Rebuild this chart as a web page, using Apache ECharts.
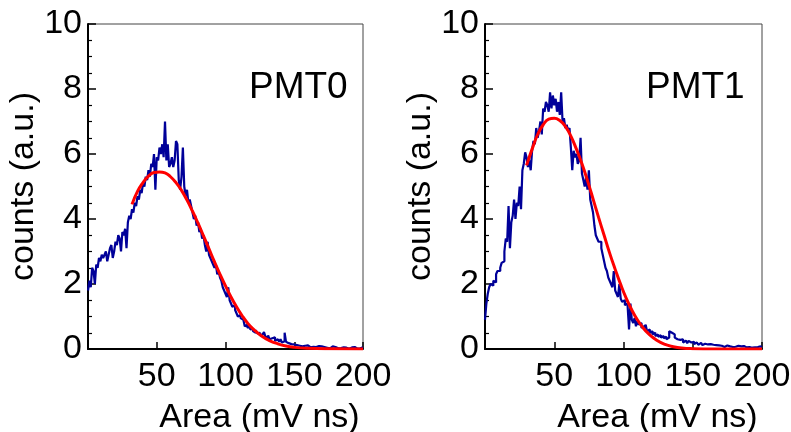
<!DOCTYPE html>
<html>
<head>
<meta charset="utf-8">
<script src="https://cdn.jsdelivr.net/npm/echarts@6/dist/echarts.min.js"></script>
<style>
  html, body { margin: 0; padding: 0; background: #fff; }
  #chart { width: 791px; height: 432px; }
</style>
</head>
<body>
<div id="chart"></div>
<script>
// Pulse-area spectra of two photomultipliers, 1 mV ns bins from 0 to 200.
const binWidth = 1;

// PMT0 histogram contents (counts, a.u.), bin i covers [i, i+1)
const pmt0Counts = [
  1.8, 2.1, 1.9, 2.5, 2.4, 2.0, 2.6, 2.5, 2.8, 2.7,
  2.9, 2.8, 2.9, 3.0, 2.7, 2.9, 3.1, 3.2, 2.8, 3.0,
  3.3, 3.2, 3.5, 3.4, 3.0, 3.6, 3.5, 3.7, 3.1, 3.9,
  4.1, 4.0, 4.3, 4.2, 4.5, 4.4, 4.7, 4.6, 4.9, 4.8,
  5.1, 5.0, 5.3, 5.2, 5.5, 5.3, 5.7, 5.6, 6.0, 4.9,
  5.9, 5.8, 6.2, 6.0, 6.3, 5.9, 7.0, 5.8, 6.3, 5.6,
  5.7, 5.9, 5.6, 5.8, 6.4, 6.3, 5.2, 4.9, 5.3, 6.2,
  5.0, 4.7, 4.9, 4.5, 4.6, 4.4, 4.2, 4.0, 4.1, 3.8,
  3.9, 3.6, 3.7, 3.4, 3.5, 3.2, 3.0, 3.3, 2.9, 2.8,
  2.7, 2.6, 2.5, 2.6, 2.3, 2.4, 2.2, 2.1, 1.9, 1.8,
  1.7, 1.6, 1.9, 1.5, 1.4, 1.3, 1.35, 1.2, 1.1, 1.0,
  1.05, 0.95, 0.9, 0.85, 0.7, 0.75, 0.65, 0.7, 0.6, 0.62,
  0.55, 0.5, 0.58, 0.48, 0.5, 0.42, 0.45, 0.4, 0.52, 0.38,
  0.35, 0.42, 0.3, 0.33, 0.28, 0.36, 0.25, 0.3, 0.27, 0.22,
  0.3, 0.2, 0.24, 0.5, 0.22, 0.18, 0.2, 0.15, 0.19, 0.14,
  0.15, 0.12, 0.18, 0.1, 0.14, 0.08, 0.12, 0.1, 0.06, 0.11,
  0.08, 0.05, 0.1, 0.07, 0.12, 0.06, 0.04, 0.09, 0.05, 0.08,
  0.03, 0.06, 0.1, 0.04, 0.07, 0.02, 0.05, 0.08, 0.03, 0.06,
  0.04, 0.02, 0.07, 0.03, 0.09, 0.05, 0.02, 0.04, 0.06, 0.01,
  0.03, 0.05, 0.02, 0.06, 0.03, 0.01, 0.04, 0.02, 0.03, 0.05
];

// PMT1 histogram contents (counts, a.u.)
const pmt1Counts = [
  0.9, 1.4, 1.7, 1.9, 2.0, 1.95, 2.1, 2.05, 2.3, 2.4,
  2.4, 2.5, 2.65, 2.7, 3.0, 3.4, 3.3, 4.4, 3.1, 3.9,
  4.1, 4.6, 4.0, 4.5, 4.4, 5.0, 4.3, 5.5, 5.7, 6.05,
  5.9, 5.6, 5.8, 5.5, 6.1, 6.4, 6.3, 6.8, 6.5, 6.7,
  7.0, 6.6, 7.4, 7.3, 7.6, 7.5, 7.3, 7.9, 7.4, 7.8,
  7.5, 7.7, 7.3, 7.6, 7.2, 7.9, 7.0, 7.1, 6.8, 6.9,
  6.7, 6.8, 6.2, 5.5, 6.1, 5.9, 6.0, 5.7, 5.8, 6.5,
  5.4, 5.2, 5.0, 5.3, 4.9, 5.5, 4.6, 4.4, 4.2, 3.8,
  3.5, 3.4, 3.3, 3.3, 3.1, 2.9, 2.7, 2.5, 2.4, 2.2,
  2.1, 2.0, 1.9, 2.4, 1.8, 1.7, 1.6, 2.0, 1.55, 1.45,
  1.5, 1.35, 1.4, 1.3, 0.6, 1.4, 0.9, 0.8, 0.95, 0.7,
  0.85, 0.75, 0.8, 0.65, 0.7, 0.6, 0.75, 0.55, 0.6, 0.5,
  0.55, 0.45, 0.5, 0.4, 0.45, 0.38, 0.42, 0.35, 0.4, 0.33,
  0.38, 0.3, 0.35, 0.55, 0.5, 0.52, 0.45, 0.35, 0.3, 0.32,
  0.28, 0.25, 0.3, 0.2, 0.26, 0.22, 0.18, 0.25, 0.2, 0.16,
  0.22, 0.15, 0.2, 0.18, 0.13, 0.19, 0.15, 0.12, 0.16, 0.1,
  0.14, 0.11, 0.15, 0.09, 0.13, 0.1, 0.12, 0.08, 0.11, 0.07,
  0.1, 0.12, 0.06, 0.09, 0.11, 0.05, 0.08, 0.1, 0.06, 0.09,
  0.07, 0.05, 0.1, 0.06, 0.08, 0.04, 0.09, 0.06, 0.05, 0.08,
  0.06, 0.09, 0.04, 0.07, 0.05, 0.1, 0.06, 0.04, 0.08, 0.06
];

// Fitted curves, sampled along area (mV ns)
const pmt0FitArea = [32, 36, 40, 44, 48, 52, 56, 60, 64, 68, 72, 76, 80, 84, 88, 92, 96, 100,
  104, 108, 112, 116, 120, 126, 132, 138, 144, 150, 160, 175, 200];
const pmt0FitCounts = [4.45, 4.85, 5.12, 5.32, 5.43, 5.45, 5.42, 5.3, 5.12, 4.88, 4.58, 4.24,
  3.87, 3.48, 3.08, 2.68, 2.3, 1.94, 1.6, 1.3, 1.03, 0.8, 0.62, 0.41, 0.26, 0.16, 0.09, 0.05,
  0.02, 0.005, 0.0];

const pmt1FitArea = [30, 34, 38, 42, 46, 50, 54, 58, 62, 66, 70, 74, 78, 82, 86, 90, 94, 98,
  102, 106, 110, 114, 118, 124, 130, 136, 142, 150, 165, 200];
const pmt1FitCounts = [5.65, 6.15, 6.6, 6.9, 7.07, 7.1, 7.03, 6.85, 6.55, 6.15, 5.7, 5.18,
  4.62, 4.05, 3.5, 2.95, 2.45, 1.98, 1.56, 1.2, 0.9, 0.66, 0.47, 0.27, 0.14, 0.07, 0.03, 0.01,
  0.0, 0.0];

const panelLabels = ['PMT0', 'PMT1'];
const xTickValues = [50, 100, 150, 200];
const yTickValues = [0, 2, 4, 6, 8, 10];

const FONT = '"Liberation Sans", Arial, Helvetica, sans-serif';
const FS = 34;

function histPoints(counts) {
  const pts = counts.map((v, i) => [i * binWidth, v]);
  pts.push([counts.length * binWidth, counts[counts.length - 1]]);
  return pts;
}
function zipPoints(xs, ys) { return xs.map((x, i) => [x, ys[i]]); }

const grids = [
  { left: 88, top: 24, width: 275, height: 325 },
  { left: 485, top: 24, width: 277, height: 325 }
];

function xAxisFor(idx) {
  return {
    gridIndex: idx, type: 'value', min: 0, max: 200, interval: 50,
    axisLine: { show: true, lineStyle: { color: '#000', width: 2 } },
    axisTick: { show: true, inside: true, length: 7, lineStyle: { color: '#000', width: 1.5 } },
    axisLabel: {
      color: '#000', fontSize: FS, fontFamily: FONT, margin: 11,
      formatter: v => xTickValues.includes(v) ? String(v) : ''
    },
    splitLine: { show: false },
    name: 'Area (mV ns)', nameLocation: 'middle', nameGap: 52,
    nameTextStyle: { color: '#000', fontSize: FS, fontFamily: FONT, padding: [0, 0, 0, 68] }
  };
}
function yAxisFor(idx) {
  return {
    gridIndex: idx, type: 'value', min: 0, max: 10, interval: 2,
    axisLine: { show: true, lineStyle: { color: '#000', width: 2 } },
    axisTick: { show: true, inside: true, length: 8, lineStyle: { color: '#000', width: 1.5 } },
    minorTick: { show: true, splitNumber: 4, length: 4, lineStyle: { color: '#000', width: 1.2 } },
    axisLabel: {
      color: '#000', fontSize: FS, fontFamily: FONT, margin: 6,
      formatter: v => yTickValues.includes(v) ? String(v) : ''
    },
    splitLine: { show: false },
    name: 'counts (a.u.)', nameLocation: 'middle', nameGap: 42,
    nameTextStyle: { color: '#000', fontSize: FS, fontFamily: FONT }
  };
}

const chart = echarts.init(document.getElementById('chart'), null, { renderer: 'canvas' });
chart.setOption({
  backgroundColor: '#fff',
  animation: false,
  title: [
    { text: panelLabels[0], left: 244, top: 64,
      textStyle: { color: '#000', fontSize: 37, fontWeight: 'normal', fontFamily: FONT } },
    { text: panelLabels[1], left: 641, top: 64,
      textStyle: { color: '#000', fontSize: 37, fontWeight: 'normal', fontFamily: FONT } }
  ],
  grid: grids.map(g => Object.assign({ show: true, borderColor: '#444', borderWidth: 1,
    backgroundColor: 'transparent', containLabel: false, outerBoundsMode: 'none' }, g)),
  xAxis: [xAxisFor(0), xAxisFor(1)],
  yAxis: [yAxisFor(0), yAxisFor(1)],
  series: [
    { type: 'line', xAxisIndex: 0, yAxisIndex: 0, step: 'end', showSymbol: false,
      data: histPoints(pmt0Counts), lineStyle: { color: '#000099', width: 2.2 }, z: 2 },
    { type: 'line', xAxisIndex: 0, yAxisIndex: 0, smooth: true, showSymbol: false,
      data: zipPoints(pmt0FitArea, pmt0FitCounts), lineStyle: { color: '#ff0000', width: 3 }, z: 3 },
    { type: 'line', xAxisIndex: 1, yAxisIndex: 1, step: 'end', showSymbol: false,
      data: histPoints(pmt1Counts), lineStyle: { color: '#000099', width: 2.2 }, z: 2 },
    { type: 'line', xAxisIndex: 1, yAxisIndex: 1, smooth: true, showSymbol: false,
      data: zipPoints(pmt1FitArea, pmt1FitCounts), lineStyle: { color: '#ff0000', width: 3 }, z: 3 }
  ]
});
</script>
</body>
</html>
